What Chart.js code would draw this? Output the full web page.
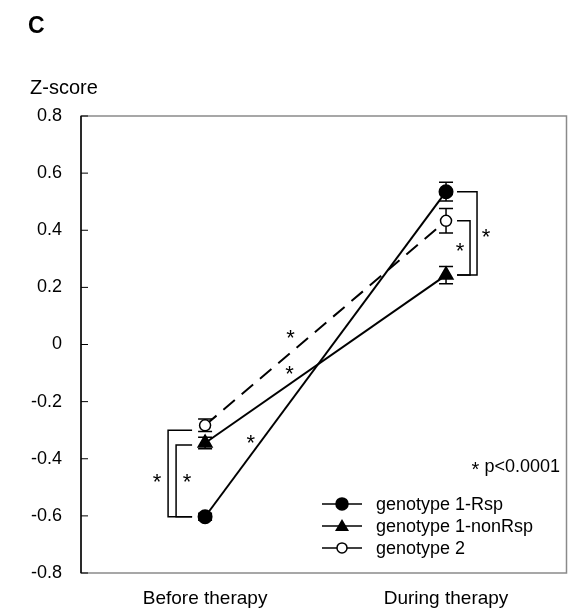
<!DOCTYPE html>
<html>
<head>
<meta charset="utf-8">
<script src="https://cdn.jsdelivr.net/npm/chart.js@4.4.1/dist/chart.umd.min.js"></script>
<style>
  html, body { margin: 0; padding: 0; background: #fff; }
  #wrap { width: 576px; height: 615px; }
</style>
</head>
<body>
<div id="wrap"><canvas id="zChart" width="576" height="615"></canvas></div>
<script>
// categories sit at x = 1 and x = 3 on a linear axis
const categories = ['Before therapy', 'During therapy'];
const catX = [1, 3];

const rspMean = [-0.603, 0.535];
const rspErr = [0.012, 0.033];
const nonRspMean = [-0.345, 0.243];
const nonRspErr = [0.02, 0.03];
const g2Mean = [-0.283, 0.433];
const g2Err = [0.022, 0.043];

const yTicks = [-0.8, -0.6, -0.4, -0.2, 0, 0.2, 0.4, 0.6, 0.8];
const seriesNames = ['genotype 1-Rsp', 'genotype 1-nonRsp', 'genotype 2'];
const pNote = 'p<0.0001';

const FONT = "'Liberation Sans', Arial, sans-serif";

function toPoints(means) {
    return means.map((m, i) => ({ x: catX[i], y: m }));
}

const errs = [rspErr, nonRspErr, g2Err];

// error bars, frame, brackets, stars, legend and labels
const extras = {
    id: 'extras',
    beforeDatasetsDraw(chart) {
        const { ctx, chartArea: a, scales: { x, y } } = chart;
        ctx.save();
        // frame
        ctx.strokeStyle = '#8a8a8a';
        ctx.lineWidth = 1.5;
        ctx.strokeRect(a.left, a.top, a.right - a.left, a.bottom - a.top);
        ctx.strokeStyle = '#000';
        ctx.beginPath();
        ctx.moveTo(a.left, a.top);
        ctx.lineTo(a.left, a.bottom);
        ctx.stroke();
        // inward ticks on y
        ctx.lineWidth = 1;
        yTicks.forEach(v => {
            const py = y.getPixelForValue(v);
            ctx.beginPath();
            ctx.moveTo(a.left, py);
            ctx.lineTo(a.left + 7, py);
            ctx.stroke();
        });
        // error bars
        ctx.lineWidth = 1.5;
        chart.data.datasets.forEach((ds, di) => {
            ds.data.forEach((p, i) => {
                const px = x.getPixelForValue(p.x);
                const top = y.getPixelForValue(p.y + errs[di][i]);
                const bot = y.getPixelForValue(p.y - errs[di][i]);
                ctx.beginPath();
                ctx.moveTo(px, top); ctx.lineTo(px, bot);
                ctx.moveTo(px - 7, top); ctx.lineTo(px + 7, top);
                ctx.moveTo(px - 7, bot); ctx.lineTo(px + 7, bot);
                ctx.stroke();
            });
        });
        ctx.restore();
    },
    afterDatasetsDraw(chart) {
        const { ctx, chartArea: a, scales: { x, y } } = chart;
        ctx.save();
        ctx.strokeStyle = '#000';
        ctx.fillStyle = '#000';
        ctx.lineWidth = 1.5;

        const star = (px, py, size) => {
            const s = size || 22;
            ctx.font = s + 'px ' + FONT;
            ctx.textAlign = 'center';
            ctx.textBaseline = 'alphabetic';
            ctx.fillText('*', px, py + 0.4 * s);
        };

        // brackets before therapy (to the left)
        const bx = x.getPixelForValue(catX[0]);
        const bRsp = y.getPixelForValue(rspMean[0]);
        [[g2Mean[0], 37, 5, -11], [nonRspMean[0], 29, 2, 11]].forEach(([v, off, dy, sx]) => {
            const py = y.getPixelForValue(v) + dy;
            ctx.beginPath();
            ctx.moveTo(bx - 13, py);
            ctx.lineTo(bx - off, py);
            ctx.lineTo(bx - off, bRsp);
            ctx.lineTo(bx - 13, bRsp);
            ctx.stroke();
            star(bx - off + sx, (y.getPixelForValue(nonRspMean[0]) + bRsp) / 2);
        });

        // brackets during therapy (to the right)
        const dx = x.getPixelForValue(catX[1]);
        const dNon = y.getPixelForValue(nonRspMean[1]);
        [[g2Mean[1], 24], [rspMean[1], 31]].forEach(([v, off]) => {
            const py = y.getPixelForValue(v);
            ctx.beginPath();
            ctx.moveTo(dx + 11, py);
            ctx.lineTo(dx + off, py);
            ctx.lineTo(dx + off, dNon);
            ctx.lineTo(dx + 11, dNon);
            ctx.stroke();
        });
        star(dx + 14, (y.getPixelForValue(g2Mean[1]) + dNon) / 2 + 1);
        star(dx + 40, (y.getPixelForValue(rspMean[1]) + dNon) / 2 + 2);

        // stars beside the change lines
        [[g2Mean, 0.355, -17], [nonRspMean, 0.35, -12], [rspMean, 0.19, -14]].forEach(([m, t, dy]) => {
            const x0 = x.getPixelForValue(catX[0]), x1 = x.getPixelForValue(catX[1]);
            const y0 = y.getPixelForValue(m[0]), y1 = y.getPixelForValue(m[1]);
            star(x0 + (x1 - x0) * t, y0 + (y1 - y0) * t + dy);
        });

        // p-value note
        const nx = a.right - 91, ny = y.getPixelForValue(-0.4) + 8;
        star(nx, ny + 1, 20);
        ctx.font = '18px ' + FONT;
        ctx.textAlign = 'left';
        ctx.textBaseline = 'middle';
        ctx.fillText(pNote, nx + 9, ny);

        // legend
        const lx = a.left + 241, ly = y.getPixelForValue(-0.6) - 12;
        chart.data.datasets.forEach((ds, i) => {
            const ry = ly + i * 22;
            ctx.lineWidth = 1.5;
            ctx.setLineDash([]);
            ctx.beginPath();
            ctx.moveTo(lx, ry);
            ctx.lineTo(lx + 40, ry);
            ctx.stroke();
            const mx = lx + 20;
            ctx.beginPath();
            if (ds.pointStyle === 'triangle') {
                ctx.moveTo(mx, ry - 7);
                ctx.lineTo(mx + 7, ry + 5);
                ctx.lineTo(mx - 7, ry + 5);
                ctx.closePath();
                ctx.fillStyle = '#000';
                ctx.fill();
            } else {
                ctx.arc(mx, ry, ds.pointRadius - 0.5, 0, Math.PI * 2);
                ctx.fillStyle = ds.pointBackgroundColor;
                ctx.fill();
                ctx.stroke();
            }
            ctx.fillStyle = '#000';
            ctx.font = '18px ' + FONT;
            ctx.textAlign = 'left';
            ctx.textBaseline = 'middle';
            ctx.fillText(ds.label, lx + 54, ry + 1);
        });

        // panel letter and axis title
        ctx.font = 'bold 23px ' + FONT;
        ctx.textAlign = 'left';
        ctx.textBaseline = 'middle';
        ctx.fillText('C', 28, 27);
        ctx.font = '20px ' + FONT;
        ctx.fillText('Z-score', 30, 88);
        ctx.restore();
    }
};

new Chart(document.getElementById('zChart'), {
    type: 'scatter',
    data: {
        datasets: [
            {
                label: seriesNames[0],
                data: toPoints(rspMean),
                showLine: true,
                borderColor: '#000',
                borderWidth: 2,
                pointStyle: 'circle',
                pointRadius: 6.5,
                pointBackgroundColor: '#000',
                pointBorderColor: '#000',
                order: 3
            },
            {
                label: seriesNames[1],
                data: toPoints(nonRspMean),
                showLine: true,
                borderColor: '#000',
                borderWidth: 2,
                pointStyle: 'triangle',
                pointRadius: 7.5,
                pointBackgroundColor: '#000',
                pointBorderColor: '#000',
                order: 2
            },
            {
                label: seriesNames[2],
                data: toPoints(g2Mean),
                showLine: true,
                borderColor: '#000',
                borderWidth: 2,
                borderDash: [15, 9],
                pointStyle: 'circle',
                pointRadius: 5.5,
                pointBorderWidth: 1.5,
                pointBackgroundColor: '#fff',
                pointBorderColor: '#000',
                order: 1
            }
        ]
    },
    options: {
        responsive: false,
        animation: false,
        layout: { padding: { top: 116, right: 8, left: 0, bottom: 0 } },
        plugins: {
            legend: { display: false },
            tooltip: { enabled: false }
        },
        scales: {
            x: {
                type: 'linear',
                min: -0.03,
                max: 4,
                afterBuildTicks: scale => { scale.ticks = catX.map(v => ({ value: v })); },
                afterFit: scale => { scale.height = 42; },
                grid: { display: false },
                border: { display: false },
                ticks: {
                    autoSkip: false,
                    maxRotation: 0,
                    padding: 6,
                    color: '#000',
                    font: { family: FONT, size: 19 },
                    callback: v => categories[catX.indexOf(v)]
                }
            },
            y: {
                min: -0.8,
                max: 0.8,
                afterBuildTicks: scale => { scale.ticks = yTicks.map(v => ({ value: v })); },
                afterFit: scale => { scale.width = 81; },
                grid: { display: false },
                border: { display: false },
                ticks: {
                    padding: 11,
                    color: '#000',
                    font: { family: FONT, size: 18 },
                    callback: v => Math.abs(v) < 1e-9 ? '0' : v.toFixed(1)
                }
            }
        }
    },
    plugins: [extras]
});
</script>
</body>
</html>
